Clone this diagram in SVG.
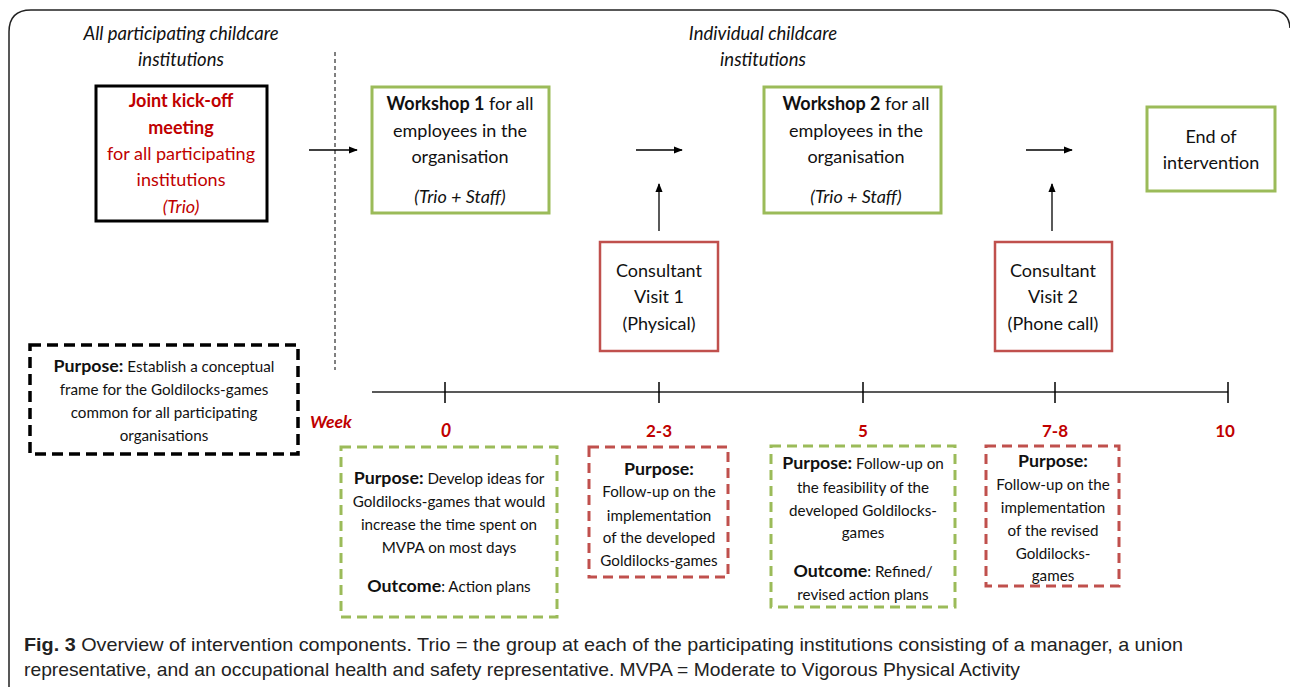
<svg xmlns="http://www.w3.org/2000/svg" width="1290" height="687" viewBox="0 0 1290 687">
<defs>
<marker id="ah" viewBox="0 0 10 10" refX="9" refY="5" markerWidth="9" markerHeight="9" markerUnits="userSpaceOnUse" orient="auto">
<path d="M0,1 L10,5 L0,9 Z" fill="#000"/>
</marker>
<style>
text{font-family:Lato,"Open Sans","Liberation Sans",sans-serif;fill:#111;}
.c{text-anchor:middle;}
.t16{font-size:18px;}
.th{font-size:18.5px;font-style:italic;}
.t14{font-size:15.2px;}
.pb{font-weight:bold;font-size:17.8px;}
.b{font-weight:bold;}
.i{font-style:italic;}
.red{fill:#C00000;}
.green{fill:none;stroke:#9BBB59;stroke-width:3;}
.redbox{fill:none;stroke:#C0504D;stroke-width:2.5;}
.gdash{fill:none;stroke:#9BBB59;stroke-width:3;stroke-dasharray:10 6;}
.rdash{fill:none;stroke:#C0504D;stroke-width:3;stroke-dasharray:10 6;}
.kdash{fill:none;stroke:#000;stroke-width:3.5;stroke-dasharray:11 6;}
.conn{stroke:#000;stroke-width:1.3;fill:none;}
.cap{font-family:"Liberation Sans Narrow","Liberation Sans",sans-serif;font-size:19px;fill:#222;}
</style>
</defs>
<rect width="1290" height="687" fill="#fff"/>
<path d="M9,690 L9,32 Q9,10 31,10 L1270,10 Q1289,10 1290,28" fill="none" stroke="#222" stroke-width="1.5"/>

<g id="header-left">
<text class="c th" x="181" y="40">All participating childcare</text>
<text class="c th" x="181" y="66">institutions</text>
</g>
<g id="header-right">
<text class="c th" x="763" y="40">Individual childcare</text>
<text class="c th" x="763" y="66">institutions</text>
</g>

<g id="kickoff">
<rect x="96" y="86" width="171" height="135" fill="none" stroke="#000" stroke-width="3"/>
<text class="c t16 b red" x="181" y="107">Joint kick-off</text>
<text class="c t16 b red" x="181" y="134">meeting</text>
<text class="c t16 red" x="181" y="160">for all participating</text>
<text class="c t16 red" x="181" y="186">institutions</text>
<text class="c t16 i red" x="181" y="213">(Trio)</text>
</g>

<g id="workshop1">
<rect x="372" y="87" width="177" height="126" class="green"/>
<text class="c t16" x="460" y="110"><tspan class="b">Workshop 1</tspan> for all</text>
<text class="c t16" x="460" y="137">employees in the</text>
<text class="c t16" x="460" y="163">organisation</text>
<text class="c t16 i" x="460" y="203">(Trio + Staff)</text>
</g>

<g id="workshop2">
<rect x="764" y="87" width="177" height="126" class="green"/>
<text class="c t16" x="856" y="110"><tspan class="b">Workshop 2</tspan> for all</text>
<text class="c t16" x="856" y="137">employees in the</text>
<text class="c t16" x="856" y="163">organisation</text>
<text class="c t16 i" x="856" y="203">(Trio + Staff)</text>
</g>

<g id="end">
<rect x="1147" y="107" width="128" height="84" class="green"/>
<text class="c t16" x="1211" y="143">End of</text>
<text class="c t16" x="1211" y="169">intervention</text>
</g>

<g id="consult1">
<rect x="600" y="242" width="118" height="109" class="redbox"/>
<text class="c t16" x="659" y="277">Consultant</text>
<text class="c t16" x="659" y="303">Visit 1</text>
<text class="c t16" x="659" y="330">(Physical)</text>
</g>

<g id="consult2">
<rect x="995" y="242" width="117" height="109" class="redbox"/>
<text class="c t16" x="1053" y="277">Consultant</text>
<text class="c t16" x="1053" y="303">Visit 2</text>
<text class="c t16" x="1053" y="330">(Phone call)</text>
</g>

<g id="purpose-kickoff">
<rect x="30" y="345" width="268" height="109" class="kdash"/>
<text class="c t14" x="164" y="372"><tspan class="pb" font-size="16.5">Purpose:</tspan> Establish a conceptual</text>
<text class="c t14" x="164" y="395">frame for the Goldilocks-games</text>
<text class="c t14" x="164" y="418">common for all participating</text>
<text class="c t14" x="164" y="441">organisations</text>
</g>

<g id="timeline">
<line x1="372" y1="392" x2="1228" y2="392" stroke="#222" stroke-width="1.5"/>
<line x1="445" y1="382" x2="445" y2="403" stroke="#000" stroke-width="1.5"/>
<line x1="659" y1="382" x2="659" y2="403" stroke="#000" stroke-width="1.5"/>
<line x1="863" y1="382" x2="863" y2="403" stroke="#000" stroke-width="1.5"/>
<line x1="1055" y1="382" x2="1055" y2="403" stroke="#000" stroke-width="1.5"/>
<line x1="1228" y1="382" x2="1228" y2="403" stroke="#000" stroke-width="1.5"/>
<text class="b i red" x="310" y="428" font-size="17.5">Week</text>
<text class="c t16 b i red" x="446" y="437" font-size="17">0</text>
<text class="c b red" x="659" y="437" font-size="17">2-3</text>
<text class="c b red" x="863" y="437" font-size="17">5</text>
<text class="c b red" x="1055" y="437" font-size="17">7-8</text>
<text class="c b red" x="1225" y="437" font-size="17">10</text>
</g>

<g id="purpose-w1">
<rect x="341" y="447" width="216" height="170" class="gdash"/>
<text class="c t14" x="449" y="484"><tspan class="pb">Purpose:</tspan> Develop ideas for</text>
<text class="c t14" x="449" y="507">Goldilocks-games that would</text>
<text class="c t14" x="449" y="530">increase the time spent on</text>
<text class="c t14" x="449" y="553">MVPA on most days</text>
<text class="c t14" x="449" y="592"><tspan class="pb">Outcome</tspan>: Action plans</text>
</g>

<g id="purpose-c1">
<rect x="589" y="447" width="139" height="130" class="rdash"/>
<text class="c pb" x="659" y="475">Purpose:</text>
<text class="c t14" x="659" y="497">Follow-up on the</text>
<text class="c t14" x="659" y="521">implementation</text>
<text class="c t14" x="659" y="543">of the developed</text>
<text class="c t14" x="659" y="566">Goldilocks-games</text>
</g>

<g id="purpose-w2">
<rect x="771" y="446" width="184" height="161" class="gdash"/>
<text class="c t14" x="863" y="469"><tspan class="pb">Purpose:</tspan> Follow-up on</text>
<text class="c t14" x="863" y="493">the feasibility of the</text>
<text class="c t14" x="863" y="516">developed Goldilocks-</text>
<text class="c t14" x="863" y="538">games</text>
<text class="c t14" x="863" y="577"><tspan class="pb">Outcome</tspan>: Refined/</text>
<text class="c t14" x="863" y="600">revised action plans</text>
</g>

<g id="purpose-c2">
<rect x="986" y="446" width="133" height="140" class="rdash"/>
<text class="c pb" x="1053" y="467">Purpose:</text>
<text class="c t14" x="1053" y="490">Follow-up on the</text>
<text class="c t14" x="1053" y="513">implementation</text>
<text class="c t14" x="1053" y="536">of the revised</text>
<text class="c t14" x="1053" y="559">Goldilocks-</text>
<text class="c t14" x="1053" y="581">games</text>
</g>

<g id="connectors">
<line x1="335" y1="52" x2="335" y2="370" stroke="#000" stroke-width="1" stroke-dasharray="4 3"/>
<line x1="309" y1="150" x2="357" y2="150" class="conn" marker-end="url(#ah)"/>
<line x1="636" y1="150" x2="682" y2="150" class="conn" marker-end="url(#ah)"/>
<line x1="659" y1="231" x2="659" y2="184" class="conn" marker-end="url(#ah)"/>
<line x1="1026" y1="150" x2="1072" y2="150" class="conn" marker-end="url(#ah)"/>
<line x1="1052" y1="231" x2="1052" y2="184" class="conn" marker-end="url(#ah)"/>
</g>

<g id="caption">
<text class="cap" x="24" y="651" textLength="1159" lengthAdjust="spacingAndGlyphs"><tspan font-weight="bold">Fig. 3</tspan> Overview of intervention components. Trio = the group at each of the participating institutions consisting of a manager, a union</text>
<text class="cap" x="24" y="676" textLength="996" lengthAdjust="spacingAndGlyphs">representative, and an occupational health and safety representative. MVPA = Moderate to Vigorous Physical Activity</text>
</g>
</svg>
